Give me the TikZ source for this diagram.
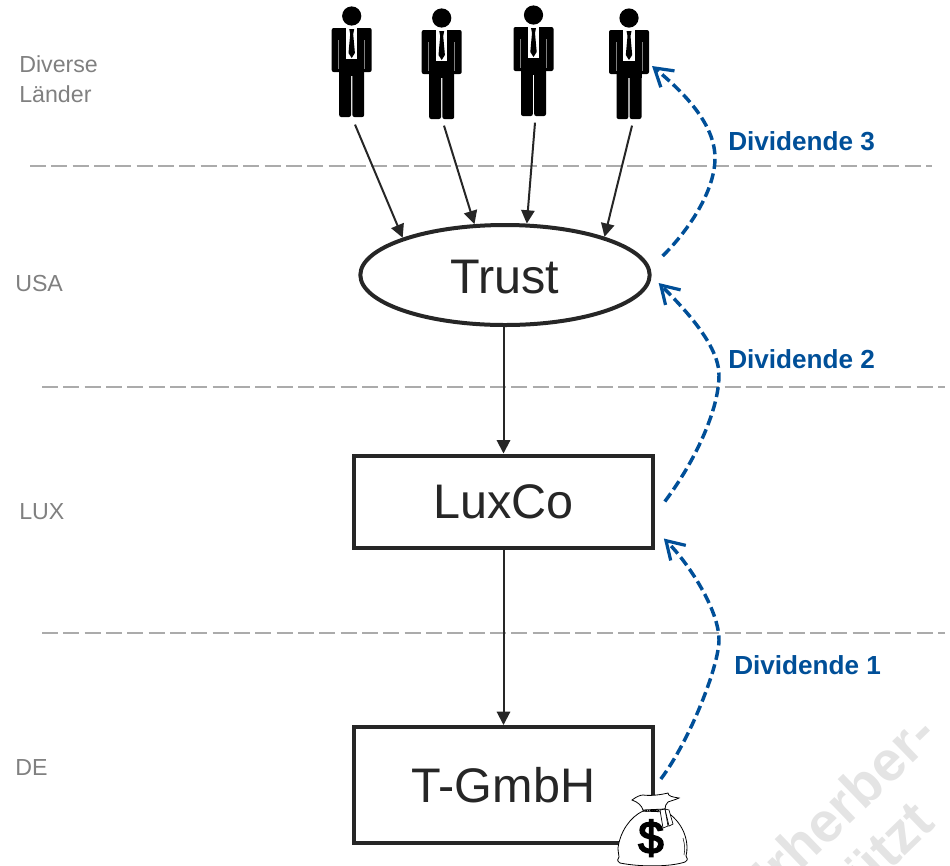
\documentclass[tikz,border=0pt]{standalone}
\usepackage{fontspec}
\setmainfont{Liberation Sans}
\newfontfamily\bagfont{Liberation Sans}[FakeBold=4]
\usetikzlibrary{arrows.meta,shapes.geometric,calc}
\definecolor{divblue}{HTML}{004F98}
\definecolor{lbl}{HTML}{808080}
\definecolor{ink}{HTML}{262626}
\definecolor{wm}{HTML}{E4E4E4}
\definecolor{sep}{HTML}{ABABAB}
\tikzset{
 x=0.75pt,y=-0.75pt,
 sepline/.style={draw=sep,line width=1.5pt,dash pattern=on 12pt off 4pt},
 country/.style={anchor=base west,text=lbl,font=\fontsize{17.4}{17.4}\selectfont,inner sep=0pt},
 entity/.style={draw=ink,line width=3pt,text=ink,font=\fontsize{36.4}{36.4}\selectfont,inner sep=0pt,fill=white},
 holder/.style={draw=ink,line width=1.5pt,-{Triangle[length=10pt,width=10pt]}},
 divi/.style={draw=divblue,line width=2.6pt,dash pattern=on 7.5pt off 3.5pt,-{Straight Barb[length=13pt,width=16pt,line width=2.4pt]}},
 divlabel/.style={anchor=base west,text=divblue,font=\fontsize{19.6}{19.6}\selectfont\bfseries,inner sep=0pt},
 manbox/.style={minimum width=30pt,minimum height=80pt,inner sep=0pt},
 watermark/.style={text=wm,font=\fontsize{42}{42}\selectfont\bfseries,rotate=44,inner sep=0pt},
}
\newcommand{\manshape}[2]{%
 \begin{scope}[shift={(#1,#2)}]
  \fill[black] (0,0) circle[radius=7.2pt];
  \fill[black,rounded corners=1.5pt] (-20,12) rectangle (20,56);
  \fill[black,rounded corners=1.5pt] (-12.5,50) rectangle (-0.7,101);
  \fill[black,rounded corners=1.5pt] (0.7,50) rectangle (12.5,101);
  \fill[black] (-12.5,12) rectangle (12.5,60);
  \fill[white] (-6,12) rectangle (5.5,43);
  \fill[black] (-2.5,13) -- (2.5,13) -- (1.5,18) -- (3.2,37) -- (0,42) -- (-3.2,37) -- (-1.5,18) -- cycle;
  \draw[gray,line width=0.35pt] (-13,24) -- (-13,53) (13,24) -- (13,53);
 \end{scope}}
\begin{document}
\begin{tikzpicture}
\useasboundingbox (0,0) rectangle (950,865);
\begin{scope}
 \clip (0,0) rectangle (950,865);
 \node[watermark] (wm1) at (834,812) {Urherber-};
 \node[watermark] (wm2) at (833,906) {geschützt};
\end{scope}
% separators
\coordinate (s1a) at (30,166); \coordinate (s1b) at (932,166);
\coordinate (s2a) at (42,387); \coordinate (s2b) at (945,387);
\coordinate (s3a) at (42,633); \coordinate (s3b) at (945,633);
\draw[sepline] (s1a) -- (s1b);
\draw[sepline] (s2a) -- (s2b);
\draw[sepline] (s3a) -- (s3b);
% countries
\node[country] (c1a) at (19,72) {Diverse};
\node[country] (c1b) at (19,102) {Länder};
\node[country] (c2) at (15,291) {USA};
\node[country] (c3) at (19,519) {LUX};
\node[country] (c4) at (15,775) {DE};
% people
\manshape{351.7}{16}
\manshape{441.7}{18}
\manshape{533.5}{15}
\manshape{629}{18}
\node[manbox] (m1) at (355,71) {};
\node[manbox] (m2) at (444,72) {};
\node[manbox] (m3) at (535,69) {};
\node[manbox] (m4) at (632,72) {};
% entities
\node[entity,ellipse,minimum width=217pt,minimum height=75pt] (trust) at (505,275) {\raisebox{-1.5pt}[\height][\depth]{Trust}};
\node[entity,rectangle,minimum width=224pt,minimum height=69pt] (lux) at (503.5,501.5) {LuxCo};
\node[entity,rectangle,minimum width=224pt,minimum height=87pt] (tg) at (503.5,785) {T-GmbH};
% holder arrows
\draw[holder] (m1.south) -- (trust.160);
\draw[holder] (m2.south) -- (trust.121);
\draw[holder] (m3.south) -- (trust.67);
\draw[holder] (m4.south) -- (trust.21);
\draw[holder] (lux.south) -- (tg.north);
\draw[holder] (lux.north |- trust.south) -- (lux.north);
% money bag
\begin{scope}
 \draw[black,fill=white,line width=0.6pt] (643,811)
   .. controls (630,817) and (620,832) .. (618,848)
   .. controls (618,852) and (619,855) .. (619,857)
   .. controls (617,859) and (617,861) .. (620,863)
   .. controls (640,867) and (670,867) .. (685,862)
   .. controls (688,860) and (688,858) .. (686,856)
   .. controls (689,845) and (686,825) .. (667,812) -- cycle;
 \draw[black,fill=white,line width=0.6pt] (643,810)
   .. controls (642,806) and (638,802) .. (632,800)
   .. controls (636,797) and (640,795) .. (643,795)
   .. controls (650,796) and (660,795) .. (668,793)
   .. controls (668,796) and (672,797) .. (679,798)
   .. controls (675,800) and (670,801) .. (668,802)
   .. controls (666,804) and (665,806) .. (665,809) -- cycle;
 \draw[black,line width=1.1pt,dash pattern=on 1.2pt off 0.6pt] (643,811) -- (665,810);
 \draw[black,fill=white,line width=0.5pt] (660,810) -- (665,809) -- (668,826) -- (663,828) -- cycle;
 \draw[black,fill=white,line width=0.5pt] (665,809) -- (669,810) -- (673,824) -- (669,826) -- cycle;
 \draw[black,line width=0.4pt] (683,838) .. controls (685,845) and (685,850) .. (684,855);
 \node[inner sep=0pt,font=\bagfont\fontsize{34}{34}\selectfont,text=black] (usd) at (651,838) {\$};
\end{scope}
% dividends
\coordinate (d1s) at ($(tg.east)+(6,-6)$);
\coordinate (d1t) at ($(lux.south east)+(9,-11)$);
\coordinate (d2s) at ($(lux.east)+(10,0)$);
\coordinate (d2t) at ($(trust.east)+(7,8)$);
\coordinate (d3s) at ($(trust.east)+(11,-19)$);
\coordinate (d3t) at (652,66);
\draw[divi] (d1s) .. controls +(30,-40) and +(0,25) .. (719,640) .. controls +(0,-30) and +(25,25) .. (d1t);
\draw[divi] (d2s) .. controls +(30,-40) and +(0,35) .. (719,375) .. controls +(0,-30) and +(25,25) .. (d2t);
\draw[divi] (d3s) .. controls +(30,-30) and +(0,30) .. (715,158) .. controls +(0,-35) and +(30,25) .. (d3t);
\node[divlabel] (l3) at (728,150) {Dividende 3};
\node[divlabel] (l2) at (728,368) {Dividende 2};
\node[divlabel] (l1) at (734,674) {Dividende 1};
\end{tikzpicture}
\end{document}
